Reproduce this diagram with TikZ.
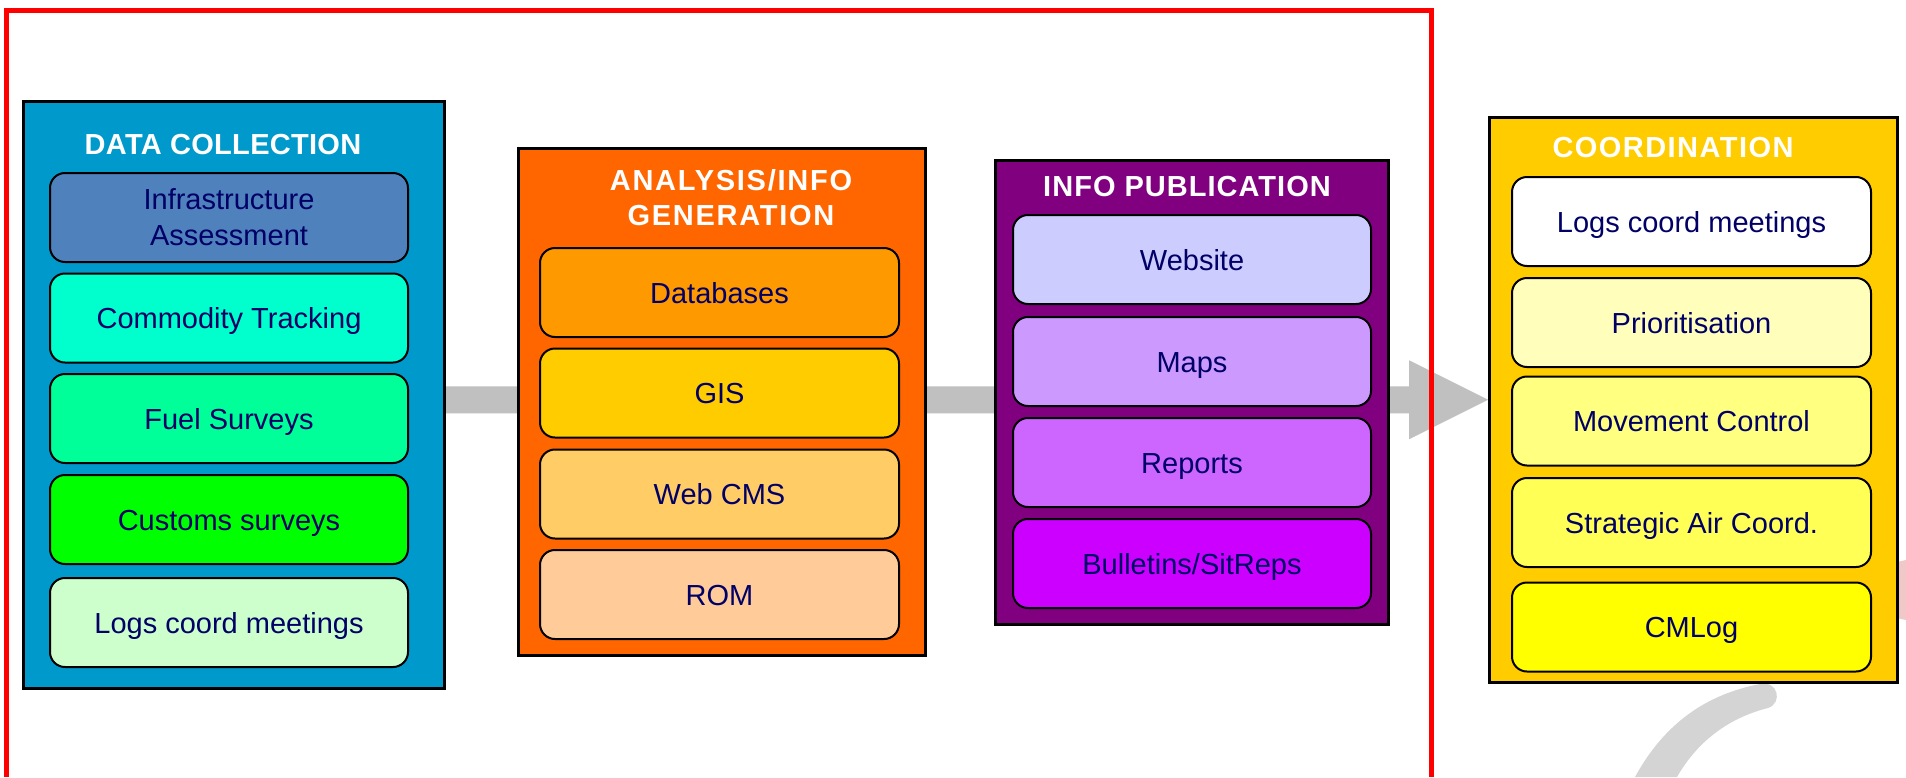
\documentclass[tikz,border=0pt]{standalone}
\usepackage{fontspec}
\setmainfont{Liberation Sans}
\usetikzlibrary{patterns,calc}
\pgfdeclarelayer{background}
\pgfsetlayers{background,main}
\definecolor{navy}{RGB}{0,0,102}
\definecolor{arrowgray}{RGB}{192,192,192}
\definecolor{swoosh}{RGB}{212,212,212}
\definecolor{pinkpatch}{RGB}{240,200,200}
\definecolor{dcbg}{RGB}{0,153,204}
\definecolor{infra}{RGB}{79,129,189}
\definecolor{commod}{RGB}{0,255,204}
\definecolor{fuel}{RGB}{0,255,153}
\definecolor{customs}{RGB}{0,255,0}
\definecolor{logsg}{RGB}{204,255,204}
\definecolor{anbg}{RGB}{255,102,0}
\definecolor{dbs}{RGB}{255,153,0}
\definecolor{gis}{RGB}{255,204,0}
\definecolor{webcms}{RGB}{255,204,102}
\definecolor{rom}{RGB}{255,204,153}
\definecolor{ipbg}{RGB}{128,0,128}
\definecolor{website}{RGB}{204,204,255}
\definecolor{maps}{RGB}{204,153,255}
\definecolor{reports}{RGB}{204,102,255}
\definecolor{bulletins}{RGB}{204,0,255}
\definecolor{cobg}{RGB}{255,204,0}
\definecolor{prior}{RGB}{255,255,187}
\definecolor{movement}{RGB}{255,255,128}
\definecolor{strategic}{RGB}{255,255,85}
\definecolor{cmlog}{RGB}{255,255,0}
\begin{document}
\begin{tikzpicture}[x=1pt,y=-1pt,
  outerbox/.style={draw=black,line width=2.5pt,anchor=north west,inner sep=0pt},
  innerbase/.style={draw=black,line width=2pt,rounded corners=15pt,minimum height=89pt,
    text=navy,font=\fontsize{29}{36}\selectfont,inner sep=0pt,align=center},
  innerbox/.style={innerbase,text height=21pt,text depth=0pt},
  titletext/.style={text=white,font=\bfseries\fontsize{29}{35}\selectfont,inner sep=0pt,align=center}]
\useasboundingbox (0,0) rectangle (1906,777);

% outer panels
\node[outerbox,fill=dcbg,minimum width=421pt,minimum height=587pt] (dc) at (22,100) {};
\node[outerbox,fill=anbg,minimum width=407pt,minimum height=507pt] (an) at (517,147) {};
\node[outerbox,fill=ipbg,minimum width=393pt,minimum height=464pt] (ip) at (994,159) {};
\node[outerbox,fill=cobg,minimum width=408pt,minimum height=565pt] (co) at (1488,116) {};

% titles
\node[titletext,anchor=base] (dct) at (223,154) {\addfontfeature{LetterSpace=1}DATA COLLECTION};
\node[titletext] (ant) at (731,197.5) {\addfontfeature{LetterSpace=6}ANALYSIS/INFO\\\addfontfeature{LetterSpace=6}GENERATION};
\node[titletext,anchor=base] (ipt) at (1187,196) {\addfontfeature{LetterSpace=3.5}INFO PUBLICATION};
\node[titletext,anchor=base] (cot) at (1673,157) {\addfontfeature{LetterSpace=5}COORDINATION};

% data collection items
\node[innerbase,fill=infra,minimum width=358pt] (d1) at (229,217.5) {Infrastructure\\Assessment};
\node[innerbox,fill=commod,minimum width=358pt] (d2) at (229,318) {Commodity Tracking};
\node[innerbox,fill=fuel,minimum width=358pt] (d3) at (229,418.5) {Fuel Surveys};
\node[innerbox,fill=customs,minimum width=358pt] (d4) at (229,519.5) {Customs surveys};
\node[innerbox,fill=logsg,minimum width=358pt] (d5) at (229,622.5) {Logs coord meetings};

% analysis items
\node[innerbox,fill=dbs,minimum width=359pt] (a1) at (719.5,292.5) {Databases};
\node[innerbox,fill=gis,minimum width=359pt] (a2) at (719.5,393) {GIS};
\node[innerbox,fill=webcms,minimum width=359pt] (a3) at (719.5,494) {Web CMS};
\node[innerbox,fill=rom,minimum width=359pt] (a4) at (719.5,594.5) {ROM};

% publication items
\node[innerbox,fill=website,minimum width=358pt] (p1) at (1192,259.5) {Website};
\node[innerbox,fill=maps,minimum width=358pt] (p2) at (1192,361.5) {Maps};
\node[innerbox,fill=reports,minimum width=358pt] (p3) at (1192,462.5) {Reports};
\node[innerbox,fill=bulletins,minimum width=358pt] (p4) at (1192,563.5) {Bulletins/SitReps};

% coordination items
\node[innerbox,fill=white,minimum width=359pt] (c1) at (1691.5,221.5) {Logs coord meetings};
\node[innerbox,fill=prior,minimum width=359pt] (c2) at (1691.5,322.5) {Prioritisation};
\node[innerbox,fill=movement,minimum width=359pt] (c3) at (1691.5,421) {Movement Control};
\node[innerbox,fill=strategic,minimum width=359pt] (c4) at (1691.5,522.5) {Strategic Air Coord.};
\node[innerbox,fill=cmlog,minimum width=359pt] (c5) at (1691.5,627) {CMLog};

\begin{pgfonlayer}{background}
  \fill[white] (0,0) rectangle (1906,777);
  % big flow arrow behind the panels
  \fill[arrowgray] ($(dc.center |- co.west)+(0,-13.5)$) -- ($(co.west)+(-79,-13.5)$)
    -- ($(co.west)+(-79,-39.5)$) -- (co.west) -- ($(co.west)+(-79,39.5)$)
    -- ($(co.west)+(-79,13.5)$) -- ($(dc.center |- co.west)+(0,13.5)$) -- cycle;
  % decorative swoosh
  \fill[swoosh]
    (1635,777) .. controls (1665,722) and (1708,694) .. (1760,684)
    .. controls (1778,680) and (1783,703) .. (1768,708)
    .. controls (1728,718) and (1697,742) .. (1677,777) -- cycle;
  \fill[pinkpatch]
    (1897,562) -- (1906,560) -- (1906,620) -- (1897,618) -- cycle;
\end{pgfonlayer}

% red frame
\draw[red,line width=5pt] (6.5,777) -- (6.5,10.5) -- (1431,10.5) -- (1431,777);
\end{tikzpicture}
\end{document}
